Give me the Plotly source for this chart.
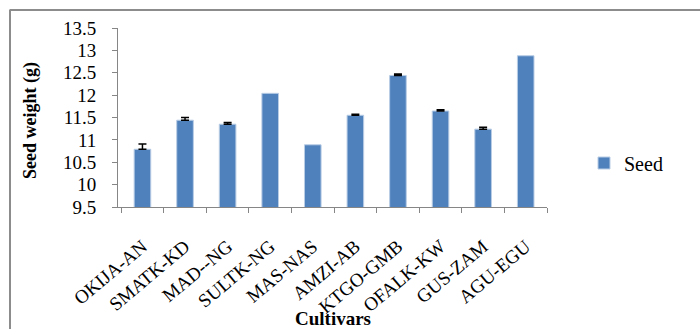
import plotly.graph_objects as go

# Seed weight per cultivar (g) and the upper error margin (None = no bar)
cultivars = ["OKIJA-AN", "SMATK-KD", "MAD--NG", "SULTK-NG", "MAS-NAS",
             "AMZI-AB", "KTGO-GMB", "OFALK-KW", "GUS-ZAM", "AGU-EGU"]
seed_weight = [10.79, 11.44, 11.35, 12.04, 10.89, 11.55, 12.44, 11.645, 11.24, 12.88]
seed_error = [0.12, 0.06, 0.04, None, None, 0.02, 0.03, 0.03, 0.04, None]
y_ticks = [9.5, 10, 10.5, 11, 11.5, 12, 12.5, 13, 13.5]

FONT = "Times New Roman"
AXIS_GREY = "#868686"

W, H = 700, 329
ML, MR, MT, MB = 118, 153, 28, 122
PW, PH = W - ML - MR, H - MT - MB


def px_to_paper_x(px):
    return (px - ML) / PW


def px_to_paper_y(py):
    return (H - MB - py) / PH


fig = go.Figure()
fig.add_trace(go.Bar(
    x=cultivars,
    y=seed_weight,
    name="Seed",
    width=0.39,
    marker=dict(color="#4F81BD", line=dict(color="#B9CDE5", width=1)),
))

# Upper error caps only where an error value exists
err_idx = [i for i, e in enumerate(seed_error) if e is not None]
fig.add_trace(go.Scatter(
    x=[cultivars[i] for i in err_idx],
    y=[seed_weight[i] for i in err_idx],
    mode="markers", marker=dict(size=1, opacity=0),
    showlegend=False, hoverinfo="skip",
    error_y=dict(type="data", symmetric=False,
                 array=[seed_error[i] for i in err_idx],
                 arrayminus=[0] * len(err_idx),
                 color="black", thickness=1.5, width=4),
))

fig.update_layout(
    width=W, height=H,
    margin=dict(l=ML, r=MR, t=MT, b=MB, pad=0),
    paper_bgcolor="white", plot_bgcolor="white",
    font=dict(family=FONT, color="black", size=17),
    showlegend=True,
    legend=dict(x=px_to_paper_x(584), y=px_to_paper_y(163),
                xanchor="left", yanchor="middle",
                font=dict(family=FONT, size=20, color="black"),
                bgcolor="rgba(0,0,0,0)", itemwidth=30),
    bargap=0.61,
)

fig.update_yaxes(
    range=[9.5, 13.5], tickvals=y_ticks,
    ticktext=[f"{v:g}" for v in y_ticks],
    showgrid=False, zeroline=False,
    showline=True, linecolor=AXIS_GREY, linewidth=1,
    ticks="outside", ticklen=5, tickcolor=AXIS_GREY,
    tickfont=dict(family=FONT, size=19, color="black"),
    ticklabelstandoff=12,
)
fig.update_xaxes(
    type="category", tickangle=-40, tickson="boundaries",
    showgrid=False, zeroline=False,
    showline=True, linecolor=AXIS_GREY, linewidth=1,
    ticks="outside", ticklen=5, tickcolor=AXIS_GREY,
    tickfont=dict(family=FONT, size=19, color="black"),
    ticklabelstandoff=20,
)

# Axis titles
fig.add_annotation(text="<b>Seed weight (g)</b>", textangle=-90,
                   x=px_to_paper_x(31), y=px_to_paper_y(121),
                   xref="paper", yref="paper", showarrow=False,
                   xanchor="center", yanchor="middle",
                   font=dict(family=FONT, size=18, color="black"))
fig.add_annotation(text="<b>Cultivars</b>",
                   x=px_to_paper_x(333), y=px_to_paper_y(318),
                   xref="paper", yref="paper", showarrow=False,
                   xanchor="center", yanchor="middle",
                   font=dict(family=FONT, size=19, color="black"))

# Chart frame: top and left edges
frame = dict(color="#8C8C8C", width=2)
fig.add_shape(type="line", xref="paper", yref="paper",
              x0=px_to_paper_x(9.5), x1=px_to_paper_x(700),
              y0=px_to_paper_y(10), y1=px_to_paper_y(10), line=frame)
fig.add_shape(type="line", xref="paper", yref="paper",
              x0=px_to_paper_x(10), x1=px_to_paper_x(10),
              y0=px_to_paper_y(10), y1=px_to_paper_y(330), line=frame)

fig.write_html("out.html")
